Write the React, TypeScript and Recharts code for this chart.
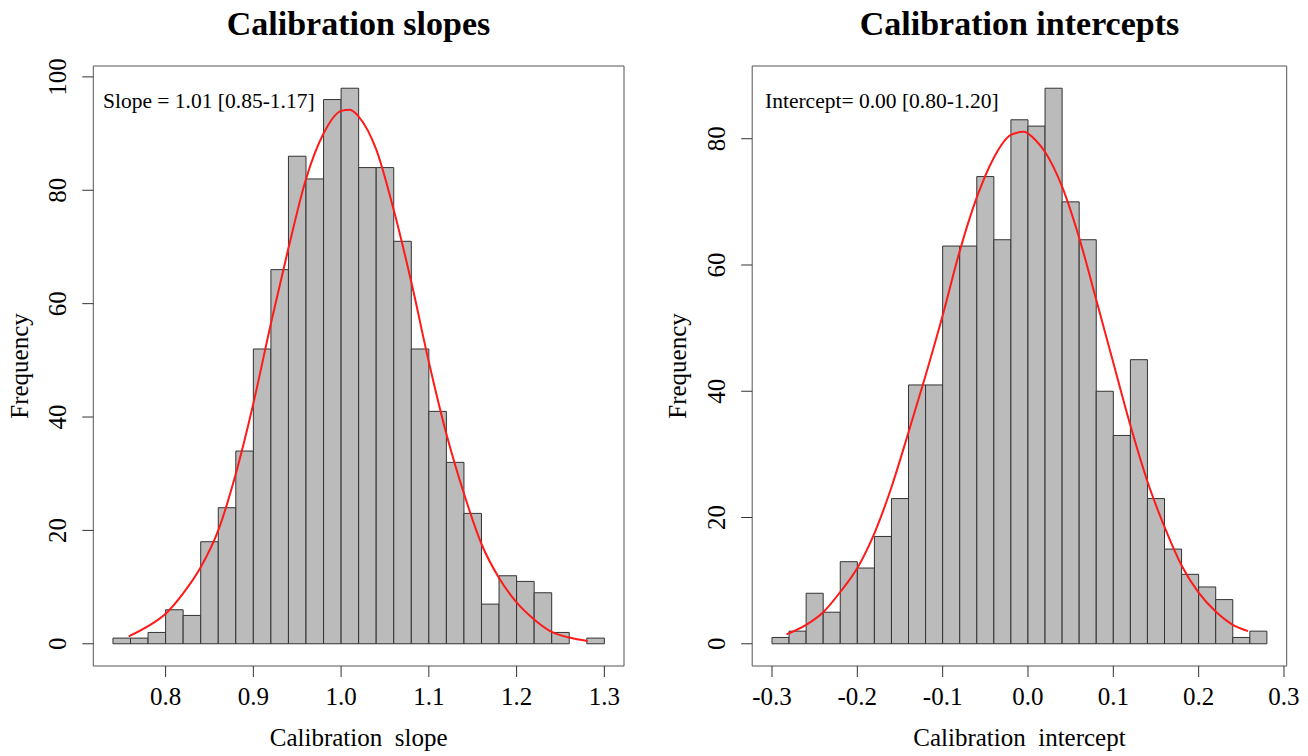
import { ComposedChart, Line, XAxis, YAxis, ReferenceArea, Label } from 'recharts'

// Calibration slopes histogram (bin edges + counts)
const slopeBreaks = [
  0.74, 0.76, 0.78, 0.8, 0.82, 0.84, 0.86, 0.88, 0.9, 0.92, 0.94, 0.96, 0.98, 1.0, 1.02,
  1.04, 1.06, 1.08, 1.1, 1.12, 1.14, 1.16, 1.18, 1.2, 1.22, 1.24, 1.26, 1.28, 1.3,
]
const slopeCounts = [
  1, 1, 2, 6, 5, 18, 24, 34, 52, 66, 86, 82, 96, 98, 84, 84, 71, 52, 41, 32, 23, 7, 12, 11, 9, 2, 0, 1,
]
// fitted curve
const slopeCurveX = [
  0.758, 0.78, 0.8, 0.82, 0.84, 0.86, 0.88, 0.9, 0.92, 0.94, 0.96, 0.98, 1.0, 1.01, 1.02, 1.04,
  1.06, 1.08, 1.1, 1.12, 1.14, 1.16, 1.18, 1.2, 1.22, 1.24, 1.26, 1.281,
]
const slopeCurveY = [
  1.3, 3.1, 5.3, 8.9, 13.5, 20, 30, 42.4, 56.5, 69.8, 82, 90, 94, 94.2, 93, 87.2,
  76.5, 63.8, 49.7, 37, 26.5, 17.6, 11.6, 7.3, 4.3, 2.1, 1.1, 0.5,
]
const slopeXTicks = [0.8, 0.9, 1.0, 1.1, 1.2, 1.3]
const slopeYTicks = [0, 20, 40, 60, 80, 100]

// Calibration intercepts histogram
const interceptBreaks = [
  -0.3, -0.28, -0.26, -0.24, -0.22, -0.2, -0.18, -0.16, -0.14, -0.12, -0.1, -0.08, -0.06, -0.04, -0.02,
  0.0, 0.02, 0.04, 0.06, 0.08, 0.1, 0.12, 0.14, 0.16, 0.18, 0.2, 0.22, 0.24, 0.26, 0.28,
]
const interceptCounts = [
  1, 2, 8, 5, 13, 12, 17, 23, 41, 41, 63, 63, 74, 64, 83, 82, 88, 70, 64, 40, 33, 45, 23, 15, 11, 9, 7, 1, 2,
]
const interceptCurveX = [
  -0.283, -0.26, -0.24, -0.22, -0.2, -0.18, -0.16, -0.14, -0.12, -0.1, -0.08, -0.06, -0.04, -0.02,
  -0.005, 0.01, 0.02, 0.04, 0.06, 0.08, 0.1, 0.12, 0.14, 0.16, 0.18, 0.2, 0.22, 0.24, 0.258,
]
const interceptCurveY = [
  1.5, 3, 5, 8.2, 12, 17.5, 24.8, 33.5, 42.5, 52, 62.2, 70.7, 77, 80.6,
  81.1, 79.6, 77.9, 72.4, 64.3, 54.5, 44.5, 34.6, 25.7, 18.5, 12.4, 8.1, 5.1, 3, 2,
]
const interceptXTicks = [-0.3, -0.2, -0.1, 0.0, 0.1, 0.2, 0.3]
const interceptYTicks = [0, 20, 40, 60, 80]

const FONT = '"Liberation Serif", "Times New Roman", serif'
const BAR_FILL = '#bbbbbb'
const BAR_STROKE = '#333333'
const BOX_STROKE = '#555555'

const YTick = (props: any) => {
  const { x, y, payload } = props
  const bx = x - 16.5
  return (
    <text
      x={bx}
      y={y}
      transform={`rotate(-90 ${bx} ${y})`}
      textAnchor="middle"
      fontSize={25}
      fill="#000"
      fontFamily={FONT}
    >
      {payload.value}
    </text>
  )
}

interface PanelProps {
  left: number
  breaks: number[]
  counts: number[]
  curveX: number[]
  curveY: number[]
  xDomain: [number, number]
  yDomain: [number, number]
  xTicks: number[]
  yTicks: number[]
  xTitle: string
  margin: { top: number; right: number; bottom: number; left: number }
  freqX: number
}

function Panel(p: PanelProps) {
  const data = p.curveX.map((x, i) => ({ x, y: p.curveY[i] }))
  return (
    <div style={{ position: 'absolute', left: p.left, top: 0 }}>
      <ComposedChart width={654} height={756} data={data} margin={p.margin}>
        <XAxis
          type="number"
          dataKey="x"
          domain={p.xDomain}
          allowDataOverflow
          ticks={p.xTicks}
          interval={0}
          tickFormatter={(v: number) => v.toFixed(1)}
          axisLine={false}
          tickLine={{ stroke: '#333' }}
          tickSize={11}
          tickMargin={10}
          tick={{ fontSize: 25, fill: '#000', fontFamily: FONT }}
          height={80}
        >
          <Label
            content={(lp: any) => {
              const vb = lp.viewBox || {}
              return (
                <text
                  x={vb.x + vb.width / 2}
                  y={746}
                  textAnchor="middle"
                  fontSize={25}
                  fontFamily={FONT}
                  fill="#000"
                  style={{ whiteSpace: 'pre' }}
                >
                  {p.xTitle}
                </text>
              )
            }}
          />
        </XAxis>
        <YAxis
          type="number"
          domain={p.yDomain}
          allowDataOverflow
          ticks={p.yTicks}
          interval={0}
          axisLine={false}
          tickLine={{ stroke: '#333' }}
          tickSize={11}
          tickMargin={0}
          tick={<YTick />}
          width={80}
        >
          <Label
            content={() => (
              <text
                x={p.freqX}
                y={366}
                transform={`rotate(-90 ${p.freqX} 366)`}
                textAnchor="middle"
                fontSize={25}
                fontFamily={FONT}
                fill="#000"
              >
                Frequency
              </text>
            )}
          />
        </YAxis>

        {p.counts.map((c, i) =>
          c > 0 ? (
            <ReferenceArea
              key={i}
              x1={p.breaks[i]}
              x2={p.breaks[i + 1]}
              y1={0}
              y2={c}
              fill={BAR_FILL}
              fillOpacity={1}
              stroke={BAR_STROKE}
              strokeWidth={1}
              ifOverflow="visible"
            />
          ) : null
        )}

        {/* plot frame */}
        <ReferenceArea
          x1={p.xDomain[0]}
          x2={p.xDomain[1]}
          y1={p.yDomain[0]}
          y2={p.yDomain[1]}
          fill="none"
          fillOpacity={0}
          stroke={BOX_STROKE}
          strokeWidth={1}
          ifOverflow="visible"
        />

        <Line
          type="monotone"
          dataKey="y"
          stroke="#ff1a1a"
          strokeWidth={2}
          dot={false}
          activeDot={false}
          isAnimationActive={false}
        />
      </ComposedChart>
    </div>
  )
}

export default function App() {
  return (
    <div
      style={{
        position: 'absolute',
        left: 0,
        top: 0,
        width: 1308,
        height: 756,
        background: '#fff',
        fontFamily: FONT,
      }}
    >
      <Panel
        left={0}
        breaks={slopeBreaks}
        counts={slopeCounts}
        curveX={slopeCurveX}
        curveY={slopeCurveY}
        xDomain={[0.7176, 1.3224]}
        yDomain={[-3.92, 101.92]}
        xTicks={slopeXTicks}
        yTicks={slopeYTicks}
        xTitle={'Calibration  slope'}
        margin={{ top: 66, right: 30, bottom: 10, left: 13.3 }}
        freqX={28}
      />
      <Panel
        left={654}
        breaks={interceptBreaks}
        counts={interceptCounts}
        curveX={interceptCurveX}
        curveY={interceptCurveY}
        xDomain={[-0.3232, 0.3032]}
        yDomain={[-3.52, 91.52]}
        xTicks={interceptXTicks}
        yTicks={interceptYTicks}
        xTitle={'Calibration  intercept'}
        margin={{ top: 66, right: 21.3, bottom: 10, left: 18.2 }}
        freqX={31.5}
      />

      {/* titles and annotations */}
      <svg
        width={1308}
        height={756}
        style={{ position: 'absolute', left: 0, top: 0, pointerEvents: 'none' }}
      >
        <text x={358.5} y={35} textAnchor="middle" fontSize={34} fontWeight="bold" fontFamily={FONT} fill="#000">
          Calibration slopes
        </text>
        <text x={1019.5} y={35} textAnchor="middle" fontSize={34} fontWeight="bold" fontFamily={FONT} fill="#000">
          Calibration intercepts
        </text>
        <text x={103} y={108} fontSize={21.5} fontFamily={FONT} fill="#000">
          Slope = 1.01 [0.85-1.17]
        </text>
        <text x={765} y={108} fontSize={21.5} fontFamily={FONT} fill="#000">
          Intercept= 0.00 [0.80-1.20]
        </text>
      </svg>
    </div>
  )
}
